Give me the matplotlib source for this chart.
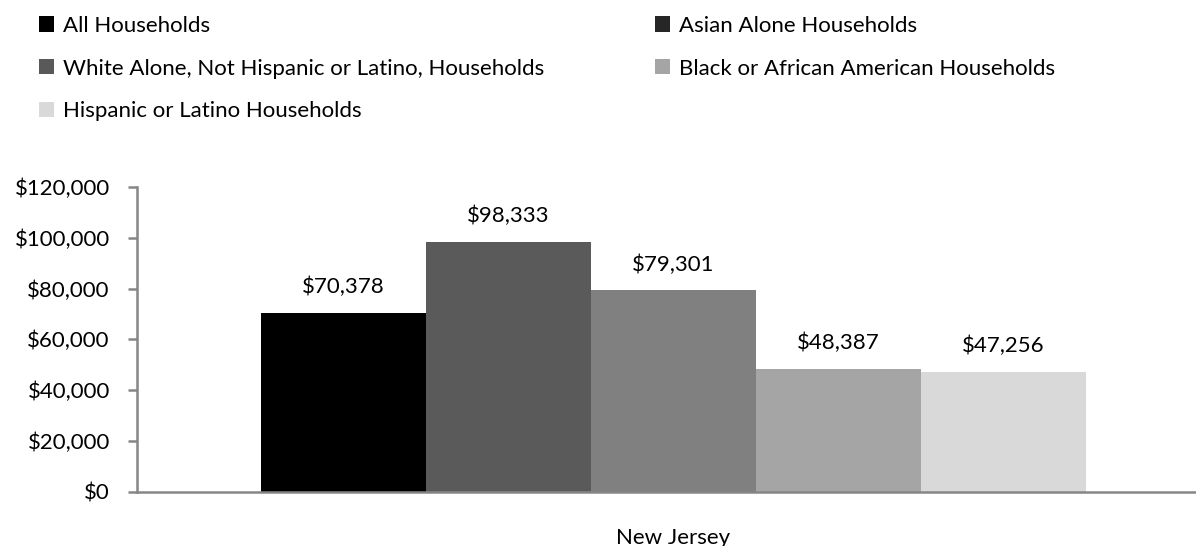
import matplotlib
matplotlib.use("Agg")
import matplotlib.pyplot as plt
from matplotlib.patches import Patch
from matplotlib.ticker import FuncFormatter

# Median household income, New Jersey
groups = [
    "All Households",
    "Asian Alone Households",
    "White Alone, Not Hispanic or Latino, Households",
    "Black or African American Households",
    "Hispanic or Latino Households",
]
incomes = [70378, 98333, 79301, 48387, 47256]
state = "New Jersey"

bar_colors = ["#000000", "#5a5a5a", "#808080", "#a5a5a5", "#d9d9d9"]
legend_colors = ["#000000", "#262626", "#595959", "#a5a5a5", "#d9d9d9"]
axis_color = "#868686"

plt.rcParams["font.family"] = ["Lato", "DejaVu Sans"]

fig = plt.figure(figsize=(11.96, 5.46), dpi=100)
ax = fig.add_axes([137 / 1196, 1 - 491.5 / 546, 1073 / 1196, 304.5 / 546])

x = range(len(incomes))
bars = ax.bar(x, incomes, width=1.0, color=bar_colors, linewidth=0)

for b, v in zip(bars, incomes):
    ax.annotate(f"${v:,.0f}", (b.get_x() + b.get_width() / 2, v),
                xytext=(0, 14), textcoords="offset points",
                ha="center", va="baseline", fontsize=16)

ax.set_xlim(-1.2515, 5.2515)
ax.set_ylim(0, 120000)
ax.set_yticks(range(0, 120001, 20000))
ax.yaxis.set_major_formatter(FuncFormatter(lambda v, p: f"${v:,.0f}"))
ax.set_xticks([2])
ax.set_xticklabels([state])

for s in ["top", "right"]:
    ax.spines[s].set_visible(False)
for s in ["left", "bottom"]:
    ax.spines[s].set_color(axis_color)
    ax.spines[s].set_linewidth(1.8)
ax.tick_params(axis="y", length=6.5, width=1.8, color=axis_color, pad=13, labelsize=16)
ax.tick_params(axis="x", length=0, pad=26, labelsize=16)

# two-column legend: left column holds items 0, 2, 4 and right column 1, 3
order = [0, 2, 4, 1, 3]
handles = [Patch(facecolor=legend_colors[i], edgecolor="none") for i in order]
labels = [groups[i] for i in order]
fig.legend(handles, labels, ncol=2, loc="upper left",
           bbox_to_anchor=(30 / 1196, 1 - 7 / 546), frameon=False,
           fontsize=16, handlelength=0.68, handleheight=0.68,
           handletextpad=0.4, labelspacing=1.02, columnspacing=5.0,
           borderaxespad=0)

fig.savefig("out.png", dpi=100)
